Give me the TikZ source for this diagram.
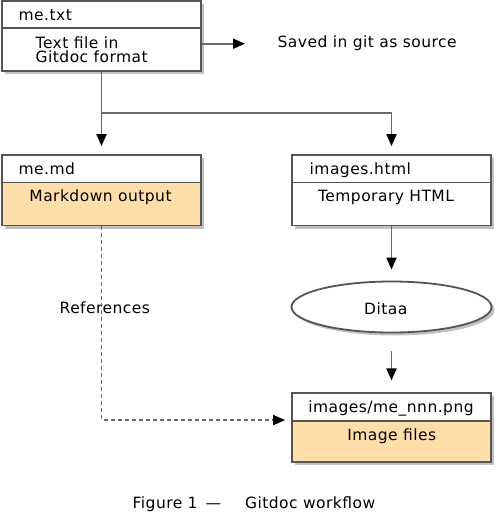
\documentclass[tikz,border=0pt]{standalone}
\usepackage{fontspec}
\setmainfont[LetterSpace=3]{DejaVu Sans}
\usetikzlibrary{arrows.meta,shadows,shapes.geometric}
\definecolor{linegrey}{RGB}{105,105,105}
\definecolor{boxgrey}{RGB}{85,85,85}
\definecolor{peach}{RGB}{255,222,170}

\begin{document}
\begin{tikzpicture}
          [x=1pt,y=-1pt,every node/.style={font=\fontsize{15.5}{13.4}\selectfont, inner sep=0pt},
           part/.style={draw=boxgrey, line width=1.8pt, minimum width=199pt, fill=white,
             drop shadow={shadow xshift=3pt, shadow yshift=-3pt, opacity=.35, fill=black!70}},
           head/.style={part, minimum height=27.5pt},
           body/.style={part, minimum height=43pt},
           txt/.style={anchor=base west},
           ctxt/.style={anchor=base},
           link/.style={draw=linegrey, line width=1.8pt},
           tip/.style={-{Triangle[length=12pt, width=10pt, color=black, fill=black]}}]
        \useasboundingbox (0,0) rectangle (497,513);

        \node[head] (txthead) at (101.5,14.75) {};
        \node[body] (txtbody) at (101.5,49.5) {};
        \node[head] (mdhead) at (101.5,168.75) {};
        \node[body, fill=peach] (mdbody) at (101.5,204) {};
        \node[head] (htmlhead) at (391.5,168.75) {};
        \node[body] (htmlbody) at (391.5,204) {};
        \node[part, ellipse, minimum width=200pt, minimum height=51pt] (ditaa) at (391.5,307) {};
        \node[head, minimum height=27.7pt] (pnghead) at (391.5,407.2) {};
        \node[body, fill=peach, minimum height=41pt] (pngbody) at (391.5,441.5) {};

        \node[txt] (txtname) at (18.5,20.5) {me.txt};
        \node[txt] (txtdesc) at (35.5,48.6) {Text file in};
        \node[txt] (txtform) at (35.5,62.8) {Gitdoc format};
        \node[txt] (saved) at (277.5,48) {Saved in git as source};
        \node[txt] (mdname) at (18.5,174) {me.md};
        \node[ctxt] (mddesc) at (100.5,201.7) {Markdown output};
        \node[txt] (htmlname) at (309.5,174) {images.html};
        \node[ctxt] (htmldesc) at (386,201.7) {Temporary HTML};
        \node[ctxt] (ditaaname) at (385.8,314) {Ditaa};
        \node[ctxt] (pngname) at (391,412.5) {images/me\_nnn.png};
        \node[ctxt] (pngdesc) at (391.8,440) {Image files};
        \node[txt] (refs) at (59.5,313) {References};
        \node[txt] (caption) at (132.5,508.3) {Figure 1\hspace{8pt}—\hspace{24pt}Gitdoc workflow};

        \coordinate (savedend) at (245,43.7);
        \coordinate (split) at (101.5,112.7);

        \draw[link, tip] (txtbody.east |- savedend) -- (savedend);
        \draw[link, tip, shorten >=8pt] (txtbody.south) -- (mdhead.north);
        \draw[link, tip, shorten >=8pt] (split) -| (htmlhead.north);
        \draw[link, tip, shorten >=11pt] (htmlbody.south) -- (ditaa.north);
        \draw[link, tip, shorten <=18pt, shorten >=12pt] (ditaa.south) -- (pnghead.north);
        \draw[link, tip, dash pattern=on 4pt off 3pt, shorten >=6pt] (mdbody.south) |- (pngbody.north west);
      \end{tikzpicture}
\end{document}
